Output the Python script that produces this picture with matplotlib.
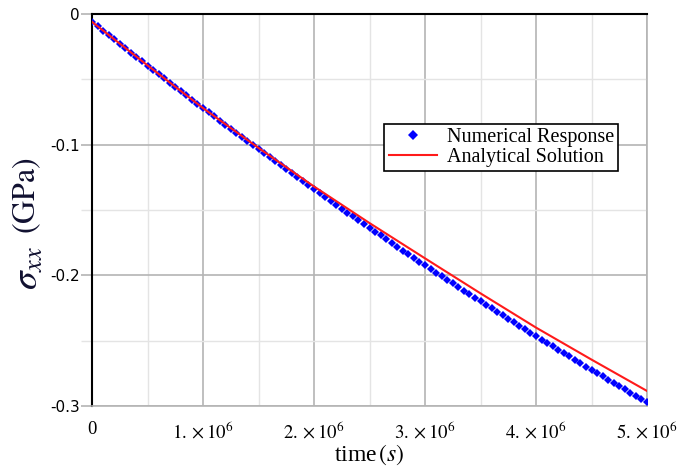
import matplotlib
matplotlib.use("Agg")
import matplotlib.pyplot as plt
from matplotlib.ticker import MultipleLocator
import numpy as np

plt.rcParams['font.family'] = ['Liberation Serif', 'DejaVu Serif']
plt.rcParams['mathtext.fontset'] = 'stix'

# Numerical response, sampled every 5e4 s (stress in GPa)
t_num = np.arange(101) * 5.0e4
sigma_num = -np.array([
    0.0060, 0.0094, 0.0128, 0.0163, 0.0195, 0.0229, 0.0262, 0.0295, 0.0329, 0.0362,
    0.0395, 0.0428, 0.0461, 0.0493, 0.0526, 0.0559, 0.0591, 0.0623, 0.0656, 0.0688,
    0.0720, 0.0752, 0.0784, 0.0816, 0.0847, 0.0879, 0.0910, 0.0942, 0.0973, 0.1004,
    0.1035, 0.1066, 0.1097, 0.1128, 0.1159, 0.1189, 0.1220, 0.1250, 0.1281, 0.1311,
    0.1341, 0.1371, 0.1401, 0.1431, 0.1461, 0.1490, 0.1520, 0.1549, 0.1578, 0.1608,
    0.1637, 0.1666, 0.1695, 0.1724, 0.1752, 0.1781, 0.1810, 0.1838, 0.1867, 0.1895,
    0.1923, 0.1951, 0.1979, 0.2007, 0.2035, 0.2062, 0.2090, 0.2117, 0.2145, 0.2172,
    0.2199, 0.2226, 0.2253, 0.2280, 0.2307, 0.2334, 0.2361, 0.2387, 0.2413, 0.2440,
    0.2466, 0.2492, 0.2518, 0.2544, 0.2570, 0.2596, 0.2621, 0.2647, 0.2672, 0.2698,
    0.2723, 0.2748, 0.2773, 0.2798, 0.2823, 0.2848, 0.2872, 0.2897, 0.2921, 0.2946,
    0.2970,
])

# Analytical solution
t_ana = [0, 0.5e6, 1.0e6, 1.5e6, 2.0e6, 2.5e6, 3.0e6, 3.5e6, 4.0e6, 4.5e6, 5.0e6]
sigma_ana = [-0.0060, -0.0393, -0.0720, -0.1025, -0.1320, -0.1600, -0.1870,
             -0.2138, -0.2400, -0.2645, -0.2885]

x_ticks = [0, 1e6, 2e6, 3e6, 4e6, 5e6]
x_tick_labels = ['0', r'$1.\times10^{6}$', r'$2.\times10^{6}$', r'$3.\times10^{6}$',
                 r'$4.\times10^{6}$', r'$5.\times10^{6}$']
y_ticks = [0, -0.1, -0.2, -0.3]
y_tick_labels = ['0', '-0.1', '-0.2', '-0.3']

fig = plt.figure(figsize=(6.79, 4.70), dpi=100)
ax = fig.add_axes([0.1355, 0.1362, 0.8174, 0.834])

ax.plot(t_num, sigma_num, linestyle='none', marker='D', markersize=4.3,
        markeredgewidth=0, color='#0000ff', label='Numerical Response', zorder=3)
ax.plot(t_ana, sigma_ana, color='#ff1a1a', linewidth=1.5,
        label='Analytical Solution', zorder=4)

ax.set_xlim(0, 5e6)
ax.set_ylim(-0.3, 0)

ax.set_xticks(x_ticks)
ax.set_xticklabels(x_tick_labels, fontsize=13.5)
ax.set_yticks(y_ticks)
ax.set_yticklabels(y_tick_labels, fontsize=11, family='DejaVu Sans')
ax.xaxis.set_minor_locator(MultipleLocator(0.5e6))
ax.yaxis.set_minor_locator(MultipleLocator(0.05))

ax.grid(True, which='major', color='#b4b4b4', linewidth=1.2)
ax.grid(True, which='minor', color='#e4e4e4', linewidth=1.0)
ax.set_axisbelow(True)

ax.tick_params(axis='x', which='both', length=0, pad=11)
ax.tick_params(axis='y', which='major', length=8, color='#b4b4b4', width=1.2, pad=1)
ax.tick_params(axis='y', which='minor', length=8, color='#e4e4e4', width=1.0)

for side in ['left', 'top']:
    ax.spines[side].set_color('black')
    ax.spines[side].set_linewidth(1.5)
for side in ['right', 'bottom']:
    ax.spines[side].set_color('#b4b4b4')
    ax.spines[side].set_linewidth(1.2)

leg = ax.legend(loc='upper left', bbox_to_anchor=(0.527, 0.719), fontsize=14.5,
                frameon=True, fancybox=False, edgecolor='black', framealpha=1,
                handlelength=2.4, handletextpad=0.5, borderpad=0.2,
                labelspacing=0.05, borderaxespad=0, markerscale=1.2)
leg.get_frame().set_linewidth(1.2)

ax.set_xlabel(r'time$\,(s)$', fontsize=17, labelpad=0)

fig.text(0.042, 0.43, r'$\sigma_{xx}$', rotation=90, fontsize=27,
         ha='center', va='center', color='#101030')
fig.text(0.040, 0.583, r'$\mathrm{(GPa)}$', rotation=90, fontsize=23,
         ha='center', va='center', color='#101030')

plt.savefig('out.png', dpi=100)
